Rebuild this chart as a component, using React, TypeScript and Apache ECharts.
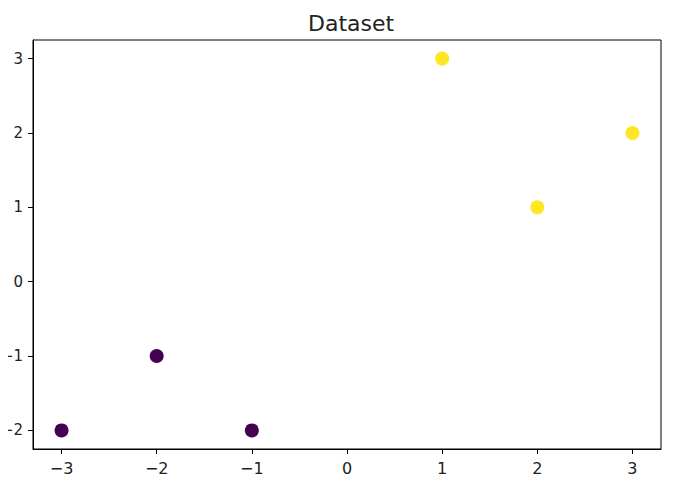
import React, { useEffect, useRef } from "react";
import * as echarts from "echarts";

const classA_x = [-3, -2, -1];
const classA_y = [-2, -1, -2];
const classB_x = [1, 2, 3];
const classB_y = [3, 1, 2];
const xTicks = [-3, -2, -1, 0, 1, 2, 3];
const yTicks = [-2, -1, 0, 1, 2, 3];
const titleText = "Dataset";

const fmt = (v: number) => (v < 0 ? "\u2212" + Math.abs(v) : String(v));

export default function App() {
  const ref = useRef<HTMLDivElement>(null);
  useEffect(() => {
    if (!ref.current) return;
    const chart = echarts.init(ref.current, null, { renderer: "svg" });
    const font = "DejaVu Sans";
    const axisCommon = {
      axisLine: { onZero: false, lineStyle: { color: "#000", width: 1 } },
      axisTick: { show: true, inside: false, length: 5, lineStyle: { color: "#000" } },
      splitLine: { show: false },
      axisLabel: {
        color: "#222",
        fontFamily: font,
        fontSize: 16,
        formatter: (v: number) => fmt(v),
      },
    };
    chart.setOption({
      animation: false,
      backgroundColor: "#fff",
      title: {
        text: titleText,
        left: 303,
        top: 7,
        textStyle: { fontFamily: font, fontSize: 22, fontWeight: "normal", color: "#222" },
      },
      grid: {
        left: 33,
        right: 29,
        top: 40,
        bottom: 43,
        show: true,
        borderColor: "#000",
        borderWidth: 1,
        containLabel: false,
        outerBoundsMode: "none",
      },
      xAxis: {
        type: "value",
        min: -3.3,
        max: 3.3,
        ...axisCommon,
        axisTick: { ...axisCommon.axisTick, customValues: xTicks },
        axisLabel: { ...axisCommon.axisLabel, margin: 11, customValues: xTicks },
      },
      yAxis: {
        type: "value",
        min: -2.25,
        max: 3.25,
        ...axisCommon,
        axisTick: { ...axisCommon.axisTick, customValues: yTicks },
        axisLabel: { ...axisCommon.axisLabel, fontSize: 15, margin: 10, customValues: yTicks },
      },
      series: [
        {
          type: "scatter",
          symbolSize: 14,
          itemStyle: { color: "#440154", opacity: 1 },
          data: classA_x.map((x, i) => [x, classA_y[i]]),
        },
        {
          type: "scatter",
          symbolSize: 14,
          itemStyle: { color: "#fde725", opacity: 1 },
          data: classB_x.map((x, i) => [x, classB_y[i]]),
        },
      ],
    });
    return () => chart.dispose();
  }, []);
  return <div ref={ref} style={{ width: 690, height: 492, margin: -8 }} />;
}
